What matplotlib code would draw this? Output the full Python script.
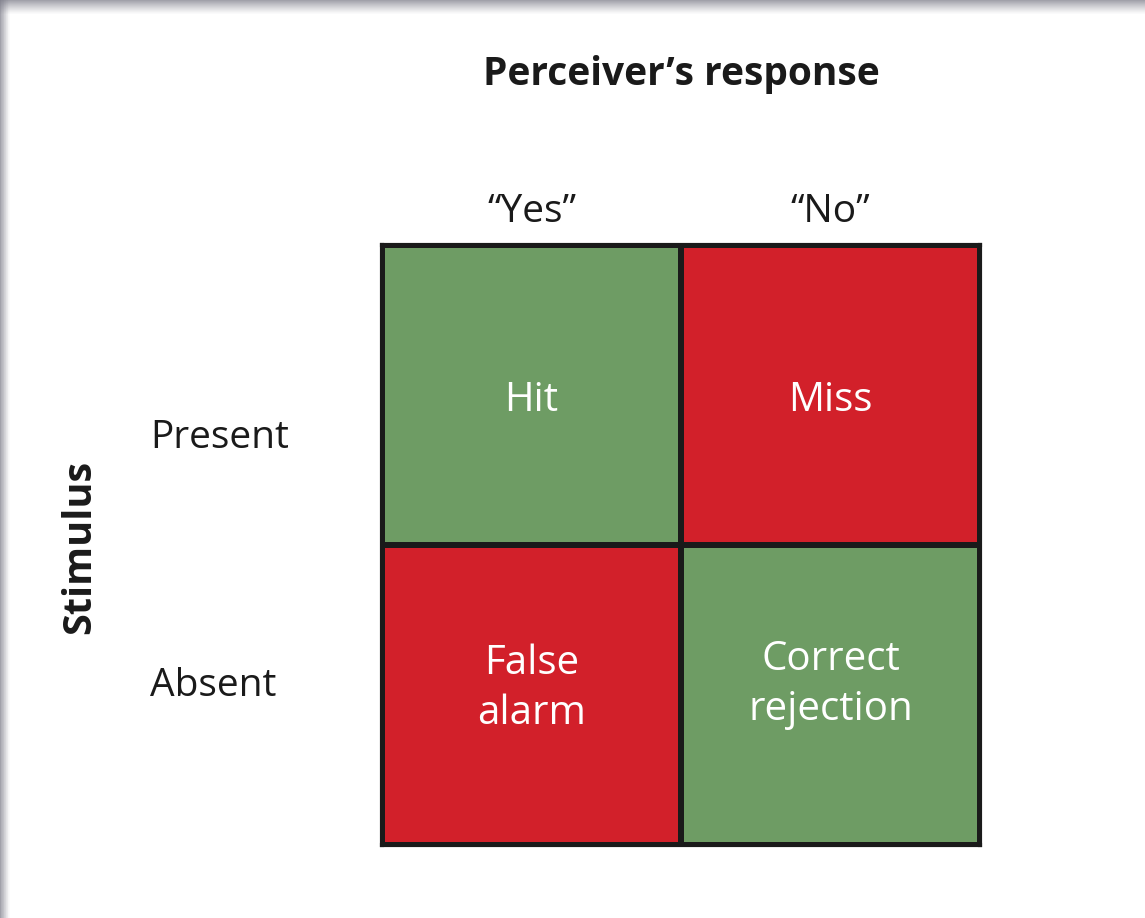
import numpy as np
import matplotlib
import matplotlib.pyplot as plt
from matplotlib.colors import ListedColormap

plt.rcParams['font.family'] = ['Open Sans', 'DejaVu Sans']

# data
responses = ['\u201cYes\u201d', '\u201cNo\u201d']
stimuli = ['Present', 'Absent']
outcomes = [['Hit', 'Miss'], ['False\nalarm', 'Correct\nrejection']]
correct = np.array([[1, 0], [0, 1]])  # 1 = correct response, 0 = error

W, H = 1145, 918
fig = plt.figure(figsize=(W / 100, H / 100), dpi=100)
fig.patch.set_facecolor('white')

# soft grey frame along top / left edge
bg = fig.add_axes([0, 0, 1, 1])
bg.set_xlim(0, W)
bg.set_ylim(H, 0)
bg.axis('off')
for i in range(14):
    a = 0.7 * (1 - i / 14) ** 1.2
    bg.add_patch(plt.Rectangle((0, i), W, 1, color=(0.48, 0.48, 0.53), alpha=a, lw=0))
    bg.add_patch(plt.Rectangle((i * 0.7, 0), 0.7, H, color=(0.48, 0.48, 0.53), alpha=a, lw=0))

# 2x2 grid
x0, x1, y0, y1 = 382, 980, 245, 845
ax = fig.add_axes([x0 / W, 1 - y1 / H, (x1 - x0) / W, (y1 - y0) / H])
cmap = ListedColormap(['#D2202A', '#6E9C64'])
ax.pcolormesh(correct, cmap=cmap, vmin=0, vmax=1, edgecolors='#1a1a1a', linewidth=3)
ax.set_xlim(0, 2)
ax.set_ylim(2, 0)
ax.set_xticks([])
ax.set_yticks([])
for s in ax.spines.values():
    s.set_linewidth(3)
    s.set_color('#1a1a1a')

label_y = [[0.52, 0.52], [0.48, 0.465]]
for r in range(2):
    for c in range(2):
        ax.text(c + 0.5, r + label_y[r][c], outcomes[r][c], ha='center', va='center',
                color='white', fontsize=29, linespacing=1.3)

# column headers
for c, lab in enumerate(responses):
    ax.text(c + 0.5, -0.11, lab, ha='center', va='center', fontsize=28, color='#1a1a1a')

# row headers (placed a bit below the row centres, as in the original)
row_pos = [0.645, 1.47]
for lab, yp in zip(stimuli, row_pos):
    ax.text(-0.775, yp, lab, ha='left', va='center', fontsize=28, color='#1a1a1a')

fig.text(681 / W, 1 - 74 / H, 'Perceiver\u2019s response', ha='center', va='center',
         fontsize=28, fontweight='bold', color='#1a1a1a')
fig.text(80 / W, 1 - 547 / H, 'Stimulus', ha='center', va='center', rotation=90,
         fontsize=28.5, fontweight='bold', color='#1a1a1a')

fig.savefig('out.png', dpi=100)
